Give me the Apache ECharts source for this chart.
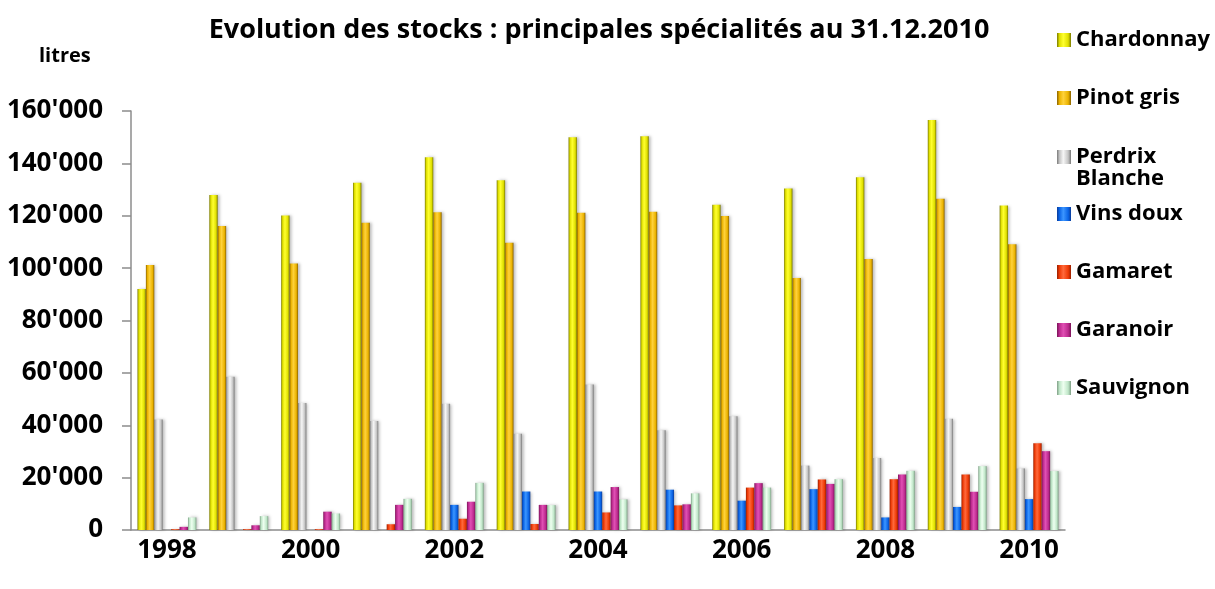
<!DOCTYPE html>
<html>
<head>
<meta charset="utf-8">
<script src="https://cdn.jsdelivr.net/npm/echarts@6/dist/echarts.min.js"></script>
<style>
  html, body { margin: 0; padding: 0; background: #fff; }
  #stocks { width: 1215px; height: 589px; }
</style>
</head>
<body>
<div id="stocks"></div>
<script>
// stocks au 31.12, litres
var years = ['1998', '1999', '2000', '2001', '2002', '2003', '2004', '2005', '2006', '2007', '2008', '2009', '2010'];
var chardonnay = [92000, 127900, 120100, 132600, 142300, 133600, 150000, 150350, 124200, 130400, 134700, 156600, 123900];
var pinotGris = [101200, 116100, 101800, 117300, 121300, 109700, 121100, 121500, 119900, 96250, 103500, 126500, 109100];
var perdrix = [42200, 58500, 48500, 41600, 48200, 36800, 55600, 38100, 43400, 24600, 27500, 42500, 23500];
var vinsDoux = [0, 0, 0, 0, 9600, 14700, 14700, 15400, 11200, 15600, 4800, 8800, 11800];
var gamaret = [300, 300, 300, 2200, 4300, 2300, 6700, 9400, 16200, 19300, 19400, 21200, 33100];
var garanoir = [1200, 1800, 7000, 9600, 10800, 9600, 16400, 9800, 17900, 17600, 21200, 14600, 30100];
var sauvignon = [4800, 5300, 6300, 11900, 18000, 9500, 11700, 14000, 16200, 19400, 22600, 24400, 22500];

var FONT = '"Open Sans", sans-serif';

// petit effet "relief" des barres (bords sombres, centre clair)
function relief(dark, light, mid) {
    return new echarts.graphic.LinearGradient(0, 0, 1, 0, [
        { offset: 0, color: dark },
        { offset: 0.18, color: mid },
        { offset: 0.45, color: light },
        { offset: 0.8, color: mid },
        { offset: 1, color: dark }
    ]);
}

function serie(name, data, dark, light, mid) {
    return {
        name: name,
        type: 'bar',
        data: data,
        barGap: '0%',
        barCategoryGap: '18%',
        itemStyle: {
            color: relief(dark, light, mid),
            shadowColor: 'rgba(0,0,0,0.25)',
            shadowBlur: 3,
            shadowOffsetX: 2
        }
    };
}

var legendText = { fontFamily: FONT, fontWeight: 'bold', fontSize: 22, color: '#000', lineHeight: 22 };

var myChart = echarts.init(document.getElementById('stocks'));
option = {
    animation: false,
    title: [{
        text: 'Evolution des stocks : principales spécialités au 31.12.2010',
        left: 594,
        textAlign: 'center',
        top: 12,
        textStyle: { fontFamily: FONT, fontWeight: 'bold', fontSize: 27, color: '#000' }
    }, {
        text: 'litres',
        left: 34,
        top: 41,
        textStyle: { fontFamily: FONT, fontWeight: 'bold', fontSize: 20, color: '#000' }
    }],
    legend: [{
        data: ['Chardonnay', 'Pinot gris'],
        orient: 'vertical',
        left: 1052,
        top: 24,
        itemWidth: 14,
        itemHeight: 14,
        itemGap: 36,
        icon: 'rect',
        selectedMode: false,
        textStyle: legendText
    }, {
        // ligne vide en tête : l'icône reste alignée sur "Perdrix"
        data: ['Perdrix Blanche'],
        orient: 'vertical',
        left: 1052,
        top: 119,
        itemWidth: 14,
        itemHeight: 14,
        icon: 'rect',
        selectedMode: false,
        formatter: function (n) { return '\n' + n.replace(' ', '\n'); },
        textStyle: legendText
    }, {
        data: ['Vins doux', 'Gamaret', 'Garanoir', 'Sauvignon'],
        orient: 'vertical',
        left: 1052,
        top: 198,
        itemWidth: 14,
        itemHeight: 14,
        itemGap: 36,
        icon: 'rect',
        selectedMode: false,
        textStyle: legendText
    }],
    grid: {
        left: 131,
        right: 150,
        top: 111,
        bottom: 59
    },
    xAxis: {
        type: 'category',
        data: years,
        axisLine: { lineStyle: { color: '#8c8c8c', width: 1.5 } },
        axisTick: { interval: 0, length: 10, lineStyle: { color: '#8c8c8c', width: 1.5 } },
        axisLabel: {
            interval: 1,
            margin: 8,
            fontFamily: FONT,
            fontWeight: 'bold',
            fontSize: 26,
            color: '#000'
        }
    },
    yAxis: {
        type: 'value',
        min: 0,
        max: 160000,
        interval: 20000,
        splitLine: { show: false },
        axisLine: { show: true, lineStyle: { color: '#8c8c8c', width: 1.5 } },
        axisTick: { show: true, length: 9, lineStyle: { color: '#8c8c8c', width: 1.5 } },
        axisLabel: {
            margin: 28,
            fontFamily: FONT,
            fontWeight: 'bold',
            fontSize: 26,
            color: '#000',
            formatter: function (v) {
                return String(v).replace(/\B(?=(\d{3})+(?!\d))/g, "'");
            }
        }
    },
    series: [
        serie('Chardonnay', chardonnay, '#7a7a00', '#ffff30', '#e0e000'),
        serie('Pinot gris', pinotGris, '#8a6200', '#ffd23c', '#ebb300'),
        serie('Perdrix Blanche', perdrix, '#7a7a7a', '#f6f6f6', '#c4c4c4'),
        serie('Vins doux', vinsDoux, '#0a3c9a', '#3c96ff', '#0a64e6'),
        serie('Gamaret', gamaret, '#9a2000', '#ff6a3c', '#ee3a06'),
        serie('Garanoir', garanoir, '#7a1458', '#e050b4', '#bc2a8e'),
        serie('Sauvignon', sauvignon, '#7f9f86', '#eefff0', '#bfe6c8')
    ]
};
myChart.setOption(option);
</script>
</body>
</html>
